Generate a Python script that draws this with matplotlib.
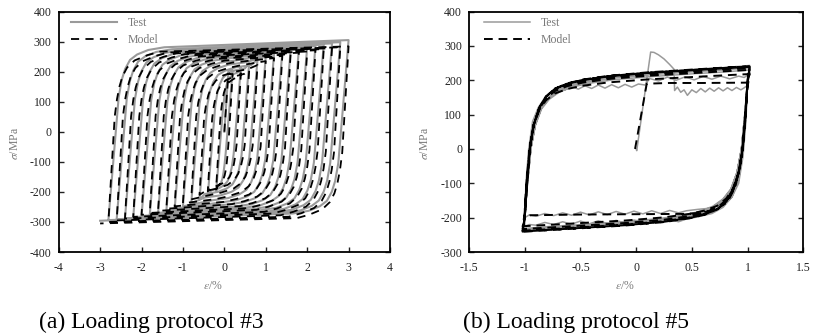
import numpy as np
import matplotlib
matplotlib.use("Agg")
import matplotlib.pyplot as plt

plt.rcParams['font.family'] = ['Liberation Serif', 'DejaVu Serif']
plt.rcParams['mathtext.fontset'] = 'stix'
plt.rcParams['axes.unicode_minus'] = False

# ---------------- data: (a) loading protocol #3 ----------------
AMP_A = [0.2, 0.4, 0.6, 0.8, 1.0, 1.2, 1.4, 1.6, 1.8, 2.0, 2.2, 2.4, 2.6, 2.8, 3.0]
TOP_TEST_A = [205, 215, 228, 240, 250, 258, 265, 270, 275, 280, 285, 290, 294, 298, 305]
BOT_TEST_A = [-200, -212, -225, -238, -248, -256, -263, -270, -275, -280, -284, -288, -291, -294, -296]
TOP_MODEL_A = [192, 195, 205, 222, 235, 245, 252, 258, 263, 267, 271, 275, 278, 281, 284]
BOT_MODEL_A = [-192, -198, -210, -225, -238, -248, -256, -263, -270, -276, -283, -289, -295, -300, -305]
INIT_TEST_A_X = [0.0, 0.1]
INIT_TEST_A_S = [0, 205]
INIT_MODEL_A_X = [0.0, 0.095]
INIT_MODEL_A_S = [0, 192]
# knee template: fraction of stress range / plastic strain offset (%)
KNEE_F_TEST = [0, 0.68, 0.78, 0.84, 0.89, 0.92, 0.945, 0.96]
KNEE_P_TEST = [0, 0.0, 0.04, 0.10, 0.20, 0.36, 0.62, 1.00]
KNEE_F_MODEL = [0, 0.60, 0.70, 0.77, 0.83, 0.88, 0.92, 0.95, 0.97]
KNEE_P_MODEL = [0, 0.0, 0.03, 0.07, 0.13, 0.23, 0.40, 0.70, 1.00]
E_TEST_A = 1650.0   # MPa per %
E_MODEL_A = 2300.0

# ---------------- data: (b) loading protocol #5 ----------------
TEST_B_INIT_X = [0.0, 0.005, 0.13, 0.16, 0.2, 0.25, 0.3, 0.34, 0.345, 0.37, 0.40, 0.43, 0.46, 0.50,
                 0.54, 0.58, 0.62, 0.66, 0.70, 0.74, 0.78, 0.82, 0.86, 0.90, 0.94, 0.97, 1.0]
TEST_B_INIT_S = [0, -5, 282, 281, 274, 262, 246, 232, 170, 180, 165, 172, 156, 172,
                 164, 176, 166, 177, 168, 178, 169, 178, 170, 179, 172, 178, 185]
TEST_B_D1_X = [1.0, 0.985, 0.96, 0.92, 0.86, 0.78, 0.68, 0.55, 0.45, 0.38, 0.3, 0.22, 0.14, 0.06,
               -0.02, -0.1, -0.18, -0.26, -0.34, -0.42, -0.5, -0.58, -0.66, -0.74, -0.82, -0.9, -0.96, -1.0]
TEST_B_D1_S = [185, 80, -20, -100, -140, -162, -172, -176, -180, -186, -179, -188, -180, -189,
               -181, -190, -182, -191, -183, -192, -184, -193, -186, -194, -188, -196, -192, -200]
TEST_B_A1_X = [-1.0, -0.99, -0.965, -0.93, -0.88, -0.82, -0.76, -0.70, -0.64, -0.58, -0.52, -0.46, -0.40,
               -0.34, -0.28, -0.22, -0.16, -0.10, -0.04, 0.02, 0.08, 0.12, 0.2, 0.28, 0.36, 0.44,
               0.52, 0.60, 0.68, 0.76, 0.84, 0.92, 0.97, 1.0]
TEST_B_A1_S = [-200, -100, 0, 80, 120, 150, 168, 178, 172, 182, 174, 184, 176,
               186, 177, 187, 178, 188, 180, 189, 186, 205, 198, 209, 200, 210,
               201, 211, 203, 212, 204, 212, 208, 215]
TEST_B_D2_X = [1.0, 0.985, 0.96, 0.92, 0.86, 0.78, 0.68, 0.55, 0.45, 0.38, 0.3, 0.22, 0.14, 0.06,
               -0.02, -0.1, -0.18, -0.26, -0.34, -0.42, -0.5, -0.58, -0.66, -0.74, -0.82, -0.9, -0.96, -1.0]
TEST_B_D2_S = [215, 100, 0, -90, -140, -170, -188, -198, -204, -212, -205, -214, -206, -215,
               -207, -216, -208, -217, -209, -218, -210, -219, -212, -220, -214, -222, -220, -225]
TEST_B_PEAKS = [230, -232, 236, -236, 240, -240, 243, -242]
MODEL_B_INIT_X = [-0.01, 0.095, 0.3, 0.6, 1.0]
MODEL_B_INIT_S = [0, 190, 192, 192, 193]
MODEL_B_D1_X = [1.0, 0.975, 0.94, 0.89, 0.82, 0.72, 0.6, 0.45, 0.0, -0.5, -0.95, -1.0]
MODEL_B_D1_S = [193, 60, -40, -110, -155, -176, -185, -189, -190, -191, -193, -200]
MODEL_B_PEAKS = [218, -225, 230, -233, 236, -238, 239, -240, 240, -241, 241]
# saturated loop shape (descending branch; ascending is its mirror)
LOOP_M_X = [1.02, 1.0, 0.98, 0.955, 0.92, 0.87, 0.81, 0.73, 0.62, 0.48, 0.25, -0.1, -0.5, -0.8, -1.02]
LOOP_M_S = [240, 200, 100, 0, -70, -120, -152, -175, -190, -201, -212, -222, -230, -236, -240]
LOOP_T_X = [1.02, 1.0, 0.975, 0.945, 0.905, 0.85, 0.78, 0.69, 0.57, 0.42, 0.2, -0.15, -0.5, -0.8, -1.02]
LOOP_T_S = [240, 200, 100, 0, -70, -120, -150, -172, -188, -199, -210, -220, -228, -234, -240]

TEST_COLOR = '#9a9a9a'
TEXT_GRAY = '#7a7a7a'


def knee_branch(x0, s0, x1, s1, F, P, E):
    d = 1.0 if x1 > x0 else -1.0
    D = abs(s1 - s0)
    span = abs(x1 - x0)
    el = D / E
    k = min(1.0, max(0.0, (span - el) / (P[-1] * 1.15)))
    xs = [x0 + d * (f * el + p * k) for f, p in zip(F, P)] + [x1]
    ss = [s0 + d * f * D for f in F] + [s1]
    return xs, ss


def protocol_a(init_x, init_s, tops, bots, F, P, E):
    xs = list(init_x)
    ss = list(init_s)
    rx, rs = [], []
    for a, t, b in zip(AMP_A, tops, bots):
        rx += [a, -a]
        rs += [t, b]
    xs.append(rx[0]); ss.append(rs[0])
    for i in range(1, len(rx)):
        bx, bs = knee_branch(rx[i - 1], rs[i - 1], rx[i], rs[i], F, P, E)
        xs += bx[1:]; ss += bs[1:]
    return xs, ss


def loop_branch(tx, ts, p0, p1):
    scale = abs(p0 - p1) / 480.0
    if p0 > p1:
        xs = list(tx)
        ss = [p0 + (s - 240.0) * scale for s in ts]
    else:
        xs = [-x for x in tx]
        ss = [p0 + (240.0 - s) * scale for s in ts]
    return xs, ss


def protocol_b(seg_x, seg_s, peaks, tx, ts):
    xs, ss = [], []
    for sx, sy in zip(seg_x, seg_s):
        if xs:
            sx, sy = sx[1:], sy[1:]
        xs += list(sx); ss += list(sy)
    p_prev = ss[-1]
    for p in peaks:
        bx, bs = loop_branch(tx, ts, p_prev, p)
        xs += bx[1:]; ss += bs[1:]
        p_prev = p
    return xs, ss


fig = plt.figure(figsize=(8.13, 3.34), dpi=100)
axA = fig.add_axes([0.0722, 0.2455, 0.4075, 0.72])
axB = fig.add_axes([0.577, 0.2455, 0.411, 0.72])

# (a)
tx, ts = protocol_a(INIT_TEST_A_X, INIT_TEST_A_S, TOP_TEST_A, BOT_TEST_A, KNEE_F_TEST, KNEE_P_TEST, E_TEST_A)
mx, ms = protocol_a(INIT_MODEL_A_X, INIT_MODEL_A_S, TOP_MODEL_A, BOT_MODEL_A, KNEE_F_MODEL, KNEE_P_MODEL, E_MODEL_A)
axA.plot(tx, ts, color=TEST_COLOR, lw=1.5, label='Test', zorder=2)
axA.plot(mx, ms, color='black', lw=1.3, ls=(0, (4.5, 3.5)), label='Model', zorder=3)

# (b)
tbx, tbs = protocol_b([TEST_B_INIT_X, TEST_B_D1_X, TEST_B_A1_X, TEST_B_D2_X],
                      [TEST_B_INIT_S, TEST_B_D1_S, TEST_B_A1_S, TEST_B_D2_S],
                      TEST_B_PEAKS, LOOP_T_X, LOOP_T_S)
mbx, mbs = protocol_b([MODEL_B_INIT_X, MODEL_B_D1_X], [MODEL_B_INIT_S, MODEL_B_D1_S],
                      MODEL_B_PEAKS, LOOP_M_X, LOOP_M_S)
axB.plot(tbx, tbs, color=TEST_COLOR, lw=1.1, label='Test', zorder=2)
axB.plot(mbx, mbs, color='black', lw=1.4, ls=(0, (4.5, 3.0)), label='Model', zorder=3)

for ax, xlim, ylim, xt, yt in [
        (axA, (-4, 4), (-400, 400), [-4, -3, -2, -1, 0, 1, 2, 3, 4], list(range(-400, 401, 100))),
        (axB, (-1.5, 1.5), (-300, 400), [-1.5, -1, -0.5, 0, 0.5, 1, 1.5], list(range(-300, 401, 100)))]:
    ax.set_xlim(*xlim)
    ax.set_ylim(*ylim)
    ax.set_xticks(xt)
    ax.set_xticklabels([('%g' % v) for v in xt])
    ax.set_yticks(yt)
    ax.tick_params(axis='both', direction='in', length=3.5, width=1.0, labelsize=8.5,
                   colors='#222222', left=True, right=True, top=False, bottom=True)
    ax.tick_params(axis='x', pad=7)
    ax.tick_params(axis='y', pad=5)
    for sp in ax.spines.values():
        sp.set_linewidth(1.3)
    ax.set_ylabel(r'$\sigma$/MPa', color=TEXT_GRAY, fontsize=8.5)
    ax.yaxis.set_label_coords(-0.114, 0.45)
    ax.set_xlabel(r'$\varepsilon$/%', color=TEXT_GRAY, fontsize=8.5)
    ax.xaxis.set_label_coords(0.465, -0.118)

legA = axA.legend(loc='upper left', bbox_to_anchor=(0.037, 0.978), frameon=False, borderpad=0,
                  borderaxespad=0, handlelength=3.9, handletextpad=0.9, labelspacing=0.45, fontsize=8.5)
legB = axB.legend(loc='upper left', bbox_to_anchor=(0.045, 0.978), frameon=False, borderpad=0,
                  borderaxespad=0, handlelength=3.9, handletextpad=0.9, labelspacing=0.45, fontsize=8.5)
for leg in (legA, legB):
    for t in leg.get_texts():
        t.set_color(TEXT_GRAY)

fig.text(0.048, 0.018, '(a) Loading protocol #3', fontsize=17, va='baseline', ha='left')
fig.text(0.5695, 0.018, '(b) Loading protocol #5', fontsize=17, va='baseline', ha='left')

fig.savefig('out.png', dpi=100)
